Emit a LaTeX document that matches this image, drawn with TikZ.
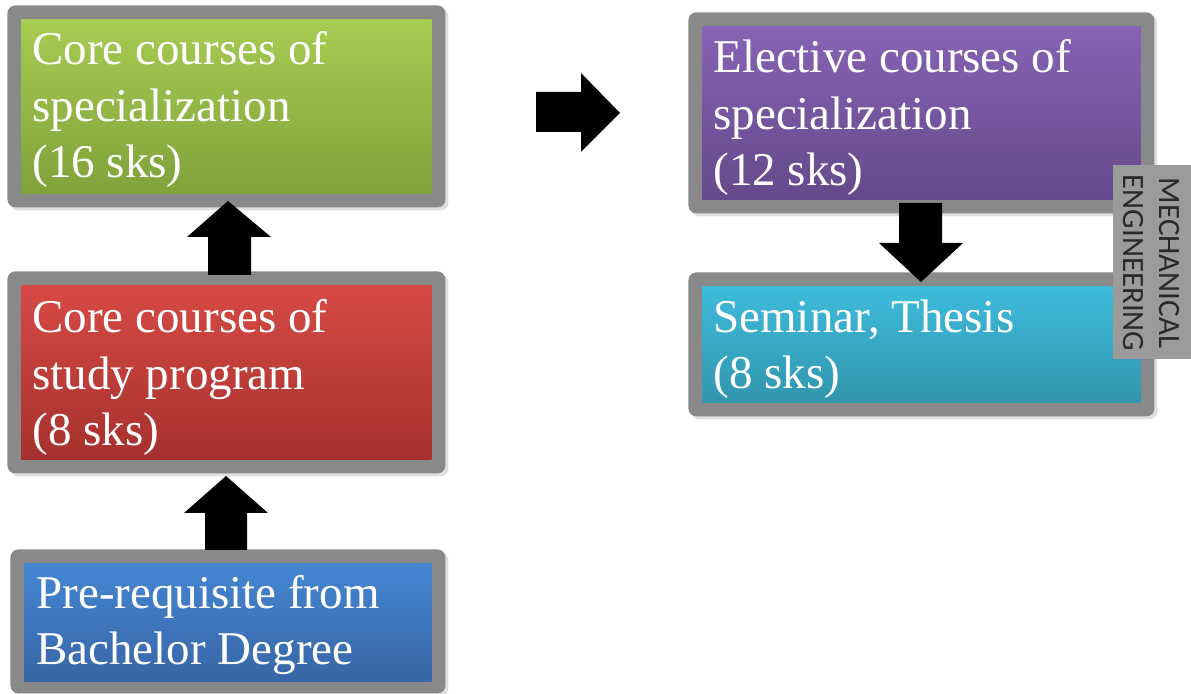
\documentclass[tikz,border=0pt]{standalone}
\usepackage{fontspec}
\setmainfont{Liberation Serif}
\newfontfamily\labelfont{Carlito}
\usetikzlibrary{shadows}
\definecolor{framegray}{HTML}{898989}
\definecolor{labelgray}{HTML}{9B9B9B}
\definecolor{labeltext}{HTML}{2A2A2A}
\definecolor{greenT}{HTML}{A6CC52}
\definecolor{greenB}{HTML}{7FA23B}
\definecolor{redT}{HTML}{D64A45}
\definecolor{redB}{HTML}{A6312E}
\definecolor{blueT}{HTML}{4486D2}
\definecolor{blueB}{HTML}{3866A6}
\definecolor{purpleT}{HTML}{8663B4}
\definecolor{purpleB}{HTML}{66498B}
\definecolor{cyanT}{HTML}{3EBBDB}
\definecolor{cyanB}{HTML}{3196AE}
\tikzset{
  frame/.style={fill=framegray, draw=none, rounded corners=4pt, anchor=north west, inner sep=0pt,
    drop shadow={opacity=0.25, shadow xshift=1.5pt, shadow yshift=-1.5pt}},
  panel/.style={draw=none, inner sep=0pt, anchor=north west},
  boxtext/.style={text=white, align=left, anchor=base west, inner sep=0pt,
    font=\fontsize{23.5}{28.3}\selectfont},
  blockarrow/.style={fill=black, draw=none},
}
\begin{document}
\begin{tikzpicture}[x=0.5pt,y=-0.5pt]
\useasboundingbox (0,0) rectangle (1191,694);

% frames
\node[frame, minimum width=219pt, minimum height=101pt] (greenF) at (7,5) {};
\node[frame, minimum width=219pt, minimum height=101pt] (redF) at (7,271) {};
\node[frame, minimum width=217.5pt, minimum height=72pt] (blueF) at (10,549) {};
\node[frame, minimum width=233pt, minimum height=100.5pt] (purpleF) at (688,12) {};
\node[frame, minimum width=233pt, minimum height=72pt] (cyanF) at (688,272) {};

% coloured panels
\node[panel, top color=greenT, bottom color=greenB, minimum width=205pt, minimum height=87pt] (green) at (21,19) {};
\node[panel, top color=redT, bottom color=redB, minimum width=205pt, minimum height=87pt] (red) at (21,285) {};
\node[panel, top color=blueT, bottom color=blueB, minimum width=203.5pt, minimum height=59pt] (blue) at (24,563) {};
\node[panel, top color=purpleT, bottom color=purpleB, minimum width=219pt, minimum height=86.5pt] (purple) at (702,26) {};
\node[panel, top color=cyanT, bottom color=cyanB, minimum width=219pt, minimum height=58pt] (cyan) at (702,286) {};

% texts (anchor = baseline of the last line)
\node[boxtext] (greenText) at (32,178) {Core courses of\\specialization\\(16 sks)};
\node[boxtext] (redText) at (32,446) {Core courses of\\study program\\(8 sks)};
\node[boxtext] (blueText) at (36,665) {Pre-requisite from\\Bachelor Degree};
\node[boxtext] (purpleText) at (713,186) {Elective courses of\\specialization\\(12 sks)};
\node[boxtext] (cyanText) at (713,389) {Seminar, Thesis\\(8 sks)};

% side label
\node[fill=labelgray, draw=none, anchor=north west, inner sep=0pt, minimum width=39pt, minimum height=97pt] (mech) at (1113,165) {};
\node[rotate=-90, text=labeltext, align=center, inner sep=0pt,
      font=\labelfont\fontsize{15.5}{18}\selectfont] (mechText) at (1151,263) {MECHANICAL\\ENGINEERING};

% block arrows
\fill[blockarrow] (208,275) -- (208,237) -- (187,237) -- (228,201) -- (271,237) -- (251,237) -- (251,275) -- cycle;
\fill[blockarrow] (205,550) -- (205,513) -- (184,513) -- (226,476) -- (268,513) -- (247,513) -- (247,550) -- cycle;
\fill[blockarrow] (899,203) -- (942,203) -- (942,243) -- (963,243) -- (921,282) -- (879,243) -- (899,243) -- cycle;
\fill[blockarrow] (536,92) -- (581,92) -- (581,73) -- (620,113) -- (581,152) -- (581,132) -- (536,132) -- cycle;
\end{tikzpicture}
\end{document}
